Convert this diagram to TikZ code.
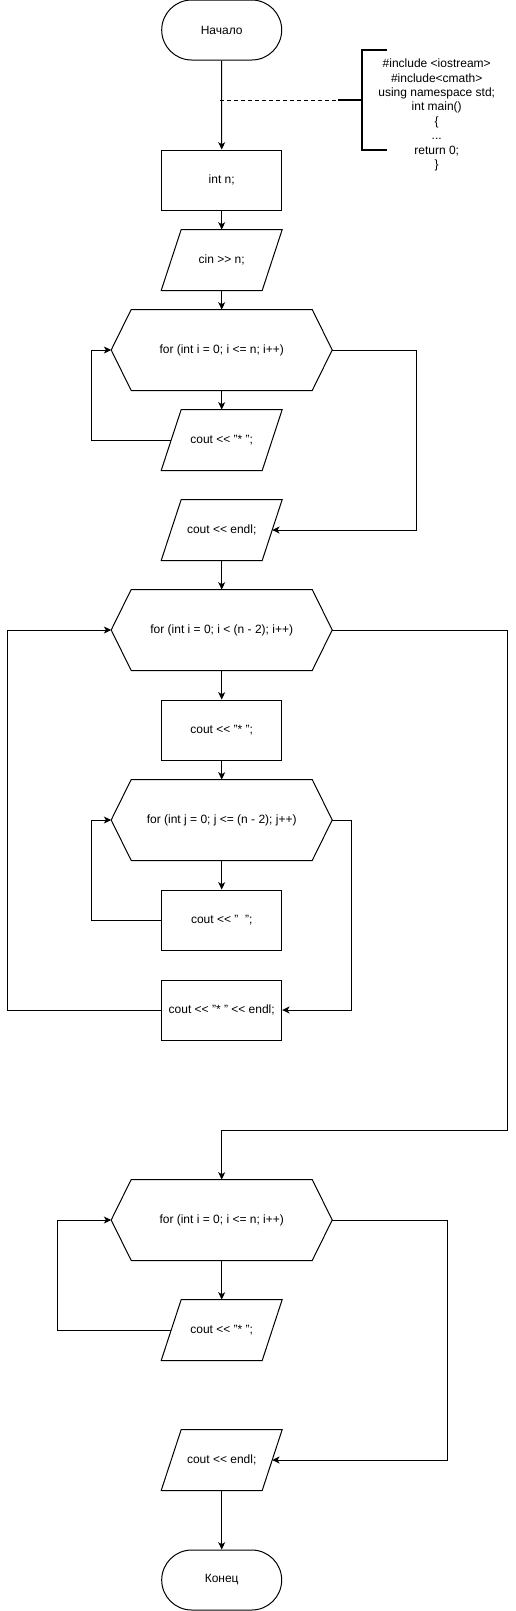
\documentclass[tikz,border=0pt]{standalone}
\usepackage{fontspec}
\setmainfont{Liberation Sans}
\usetikzlibrary{shapes.misc,arrows.meta,calc}
\newcommand\dlt{<\kern0pt<}
\newcommand\dgt{>\kern0pt>}
\newcommand\iooutline[1]{\draw ($(#1.north west)+(10,0)$) -- ($(#1.north east)+(10,0)$) -- ($(#1.south east)+(-10,0)$) -- ($(#1.south west)+(-10,0)$) -- cycle;}
\newcommand\hexoutline[1]{\draw ($(#1.north west)+(20,0)$) -- ($(#1.north east)+(-20,0)$) -- (#1.east) -- ($(#1.south east)+(-20,0)$) -- ($(#1.south west)+(20,0)$) -- (#1.west) -- cycle;}
\begin{document}
\begin{tikzpicture}[x=0.75pt,y=-0.75pt,line width=0.75pt,
  every node/.style={font=\fontsize{9}{10.8}\selectfont, inner sep=0pt},
  term/.style={rounded rectangle, draw, minimum width=90pt, minimum height=45pt},
  proc/.style={rectangle, draw, minimum width=90pt, minimum height=45pt},
  iobox/.style={rectangle, minimum width=75pt, minimum height=45pt},
  loopbox/.style={rectangle, minimum width=165pt, minimum height=60pt},
  arr/.style={-{Stealth[length=5.5pt,width=5.25pt,inset=1.5pt]}},
  bracketline/.style={line width=1.5pt},
  note/.style={align=center}
]
\useasboundingbox (0,0) rectangle (516,1611);
\def\cx{221.7}
% nodes
\node[term] (start) at (\cx,30) {Начало};
\node[proc] (intn) at (\cx,180) {int n;};
\node[iobox] (cin) at (\cx,260) {cin \dgt{} n;};
\node[loopbox] (for1) at (\cx,350) {for (int i = 0; i <= n; i++)};
\node[iobox] (body1) at (\cx,440) {cout \dlt{} "* ";};
\node[iobox] (endl1) at (\cx,530) {cout \dlt{} endl;};
\node[loopbox] (for2) at (\cx,630) {for (int i = 0; i < (n - 2); i++)};
\node[proc] (star2) at (\cx,730) {cout \dlt{} "* ";};
\node[loopbox] (forj) at (\cx,820) {for (int j = 0; j <= (n - 2); j++)};
\node[proc] (space) at (\cx,920) {cout \dlt{} "~~";};
\node[proc] (starendl) at (\cx,1010) {cout \dlt{} "* " \dlt{} endl;};
\node[loopbox] (for3) at (\cx,1220) {for (int i = 0; i <= n; i++)};
\node[iobox] (body3) at (\cx,1330) {cout \dlt{} "* ";};
\node[iobox] (endl3) at (\cx,1460) {cout \dlt{} endl;};
\node[term] (end) at (\cx,1580) {Конец};
\node[note] (code) at (436.7,115) {\#include <iostream>\\\#include<cmath>\\using namespace std;\\int main()\\\{\\...\\return 0;\\\}};
% outlines
\iooutline{cin}
\iooutline{body1}
\iooutline{endl1}
\iooutline{body3}
\iooutline{endl3}
\hexoutline{for1}
\hexoutline{for2}
\hexoutline{forj}
\hexoutline{for3}
% annotation bracket
\coordinate (dstart) at (220,100);
\coordinate (bmid) at (338,100);
\draw[bracketline] (387,50) -- (362,50) -- (362,150) -- (387,150);
\draw[bracketline] (362,100) -- (bmid);
\draw[dashed,dash pattern=on 3pt off 2.25pt] (dstart) -- (bmid);
% connectors
\draw[arr] (start) -- (intn);
\draw[arr] (intn) -- (cin);
\draw[arr] (cin) -- (for1);
\draw[arr] (for1) -- (body1);
\draw[arr] (for1.east) -- (416.7,350) |- (endl1.east);
\draw[arr] (body1.west) -- (91.7,440) |- (for1.west);
\draw[arr] (endl1) -- (for2);
\draw[arr] (for2) -- (star2);
\draw[arr] (star2) -- (forj);
\draw[arr] (forj) -- (space);
\draw[arr] (space.west) -- (91.7,920) |- (forj.west);
\draw[arr] (forj.east) -- (351.7,820) |- (starendl.east);
\draw[arr] (starendl.west) -- (7.3,1010) |- (for2.west);
\draw[arr] (for2.east) -- (507.7,630) -- (507.7,1130) -| (for3.north);
\draw[arr] (for3) -- (body3);
\draw[arr] (body3.west) -- (57.3,1330) |- (for3.west);
\draw[arr] (for3.east) -- (447.3,1220) |- (endl3.east);
\draw[arr] (endl3) -- (end);
\end{tikzpicture}
\end{document}
